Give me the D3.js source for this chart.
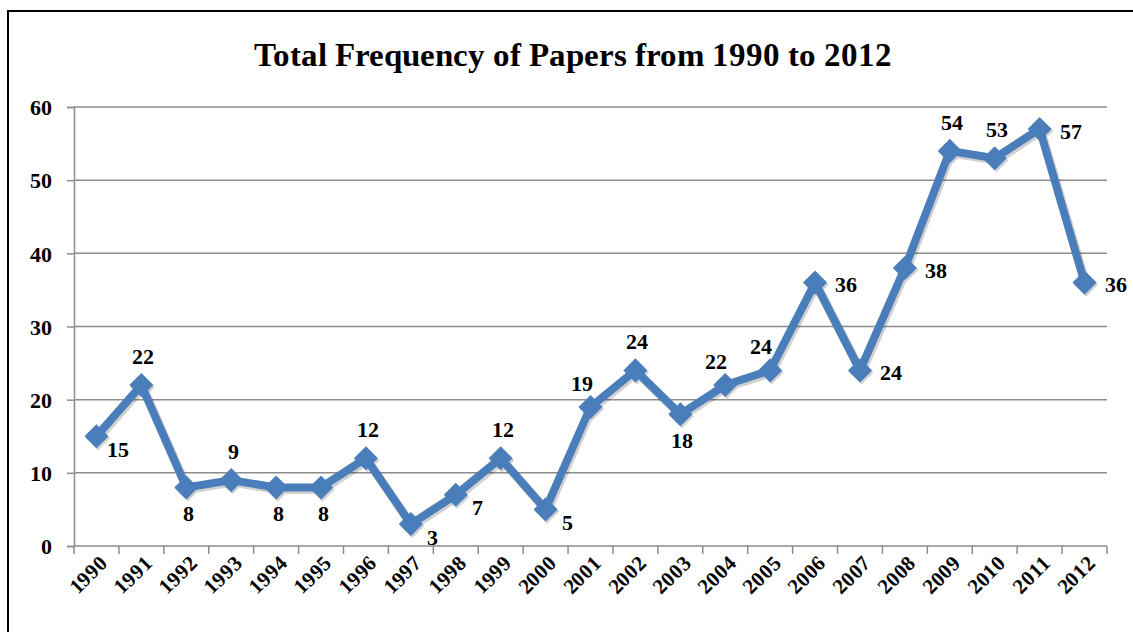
<!DOCTYPE html>
<html>
<head>
<meta charset="utf-8">
<script src="https://cdn.jsdelivr.net/npm/d3@7"></script>
<style>
  @font-face {
    font-family: "ChartSerif";
    src: local("Liberation Serif Bold"), local("LiberationSerif-Bold"), local("Liberation Serif");
    font-weight: bold;
  }
  @font-face {
    font-family: "ChartSerif";
    src: local("Liberation Serif"), local("LiberationSerif");
    font-weight: normal;
  }
</style>
</head>
<body style="margin:0">
<svg id="chart" width="1133" height="632"></svg>
<script>
// Yearly paper counts
const years = ["1990","1991","1992","1993","1994","1995","1996","1997","1998","1999","2000",
               "2001","2002","2003","2004","2005","2006","2007","2008","2009","2010","2011","2012"];
const papers = [15, 22, 8, 9, 8, 8, 12, 3, 7, 12, 5, 19, 24, 18, 22, 24, 36, 24, 38, 54, 53, 57, 36];
// where each value label sits relative to its marker
const labelSide = ["br","t","b","t","b","b","t","br","br","t","br","tl","t","b","tl","tl","r","r","r","t","t","r","r"];
const yTicks = [0, 10, 20, 30, 40, 50, 60];
const chartTitle = "Total Frequency of Papers from 1990 to 2012";

const W = 1133, H = 632;
const plot = { left: 74, right: 1107, top: 107, bottom: 546 };
const blue = "#4a7ebb";
const grid = "#8c8c8c";

// serif type for every label
const setFont = (sel, size) => sel
  .style("font-family", "ChartSerif, 'Liberation Serif', serif")
  .attr("font-size", size)
  .attr("font-weight", "bold")
  .attr("fill", "#000");

const svg = d3.select("#chart");

// outer chart frame
svg.append("rect").attr("x", 8).attr("y", 11).attr("width", W + 20).attr("height", H + 20)
  .attr("fill", "none").attr("stroke", "#000").attr("stroke-width", 2);

// title
svg.append("text").attr("x", 573).attr("y", 66).attr("text-anchor", "middle")
  .call(setFont, 33).text(chartTitle);

const x = d3.scaleBand().domain(years).range([plot.left, plot.right]).paddingInner(0).paddingOuter(0);
const y = d3.scaleLinear().domain([0, 60]).range([plot.bottom, plot.top]);

// horizontal gridlines
svg.append("g").selectAll("line").data(yTicks.filter(t => t > 0)).join("line")
  .attr("x1", plot.left).attr("x2", plot.right)
  .attr("y1", d => y(d)).attr("y2", d => y(d))
  .attr("stroke", grid).attr("stroke-width", 1.5);

// y axis
const yAxis = svg.append("g").attr("transform", `translate(${plot.left},0)`)
  .call(d3.axisLeft(y).tickValues(yTicks).tickSize(7).tickPadding(15).tickFormat(d3.format("d")));
yAxis.attr("font-family", null).attr("font-size", null);
yAxis.select(".domain").attr("stroke", grid).attr("stroke-width", 1.5);
yAxis.selectAll(".tick line").attr("stroke", grid).attr("stroke-width", 1.5);
yAxis.selectAll(".tick text").call(setFont, 22).attr("dy", "0.35em");

// x axis: ticks on category boundaries
const xAxisG = svg.append("g").attr("transform", `translate(0,${plot.bottom})`);
xAxisG.append("line").attr("x1", plot.left).attr("x2", plot.right)
  .attr("stroke", grid).attr("stroke-width", 1.5);
const bounds = years.map(d => x(d)).concat([x(years[years.length - 1]) + x.bandwidth()]);
xAxisG.selectAll("line.tk").data(bounds).join("line").attr("class", "tk")
  .attr("x1", d => d).attr("x2", d => d).attr("y1", 0).attr("y2", 8)
  .attr("stroke", grid).attr("stroke-width", 1.5);
xAxisG.selectAll("text").data(years).join("text")
  .attr("transform", d => `translate(${x(d) + x.bandwidth() / 2 + 7},${13}) rotate(-45)`)
  .attr("text-anchor", "end").attr("dy", "0.35em")
  .call(setFont, 21)
  .text(d => d);

// series line and diamond markers, each with a soft offset shadow beneath
const cx = d => x(d) + x.bandwidth() / 2;
const line = d3.line().x((d, i) => cx(years[i])).y(d => y(d));
const diamond = d3.symbol().type(d3.symbolSquare).size(290);

const shadowG = svg.append("g").attr("transform", "translate(1.5,2)").attr("opacity", 0.18);
shadowG.append("path").datum(papers).attr("d", line)
  .attr("fill", "none").attr("stroke", "#000").attr("stroke-width", 9)
  .attr("stroke-linejoin", "round");
shadowG.selectAll("path.m").data(papers).join("path").attr("class", "m")
  .attr("d", diamond)
  .attr("transform", (d, i) => `translate(${cx(years[i])},${y(d)}) rotate(45)`)
  .attr("fill", "#000");

svg.append("path").datum(papers).attr("d", line)
  .attr("fill", "none").attr("stroke", blue).attr("stroke-width", 8)
  .attr("stroke-linejoin", "round");

svg.append("g").selectAll("path").data(papers).join("path")
  .attr("d", diamond)
  .attr("transform", (d, i) => `translate(${cx(years[i])},${y(d)}) rotate(45)`)
  .attr("fill", blue);

// value labels
const offsets = { t: [2, -29], b: [2, 26], r: [31, 2], br: [22, 13], tl: [-9, -24] };
svg.append("g").selectAll("text").data(papers).join("text")
  .attr("x", (d, i) => cx(years[i]) + offsets[labelSide[i]][0])
  .attr("y", (d, i) => y(d) + offsets[labelSide[i]][1])
  .attr("text-anchor", "middle").attr("dy", "0.35em")
  .call(setFont, 22)
  .text(d => d);
</script>
</body>
</html>
